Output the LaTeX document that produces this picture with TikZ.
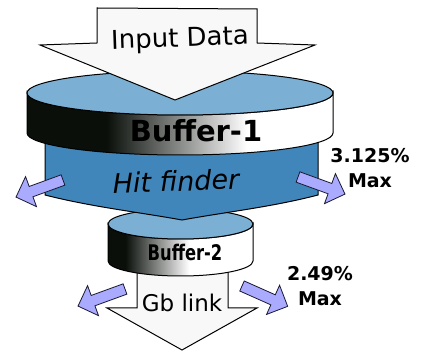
\documentclass[tikz,border=0pt]{standalone}
\usepackage{fontspec}
\setmainfont{DejaVu Sans}
\newfontfamily\serre[FakeStretch=0.76]{DejaVu Sans}
\usepackage{xcolor}
\definecolor{tamponDessus}{HTML}{7BAFD4}
\definecolor{tamponSombre}{HTML}{0A0F0A}
\definecolor{filtreBleu}{HTML}{4186BA}
\definecolor{fluxBlanc}{HTML}{F8F8F8}
\definecolor{fuiteLavande}{HTML}{AAAAFF}
\definecolor{fuiteContour}{HTML}{1A1A33}
\usepackage{tikz}

%% Flancs des deux tampons : noir a gauche, blanc a droite.
%% Le chemin couvre la bande 25bp--75bp de l'ombrage.
\pgfdeclarehorizontalshading{bandeUn}{100bp}{color(0bp)=(tamponSombre);
  color(38bp)=(tamponSombre); color(61bp)=(white); color(100bp)=(white)}
\pgfdeclarehorizontalshading{bandeDeux}{100bp}{color(0bp)=(tamponSombre);
  color(31bp)=(tamponSombre); color(53bp)=(white); color(100bp)=(white)}

\tikzset{
  %% ── Volumes ──────────────────────────────────────────────────────────
  dessusTampon/.style = {fill=tamponDessus, draw=black, line width=1pt},
  flanc/.style        = {draw=black, line width=1pt},
  filtre/.style       = {fill=filtreBleu, draw=black, line width=1pt},
  %%
  %% ── Fleches ──────────────────────────────────────────────────────────
  %% Les grosses fleches portent le flux, les petites les pertes.
  fleuve/.style       = {fill=fluxBlanc, draw=black, line width=1pt,
                         line join=miter},
  fuite/.style        = {fill=fuiteLavande, draw=fuiteContour,
                         line width=0.8pt, line join=miter},
  flecheFuite/.pic    = {\path[fuite] (0,-5.5) -- (34,-5.5) -- (34,-16)
                           -- (50,0) -- (34,16) -- (34,5.5) -- (0,5.5) -- cycle;},
  %%
  %% ── Texte ────────────────────────────────────────────────────────────
  titreTampon/.style  = {font=\bfseries\fontsize{29}{32}\selectfont},
  titreSerre/.style   = {font=\serre\bfseries\fontsize{21.5}{24}\selectfont},
  etiquette/.style    = {font=\fontsize{26}{30}\selectfont},
  taux/.style         = {font=\bfseries\fontsize{19}{24.5}\selectfont,
                         align=center, inner sep=0pt},
}

\begin{document}
\begin{tikzpicture}[x=1pt, y=1pt, yscale=-1]
\useasboundingbox (0,0) rectangle (421,352);

%% Le lien Gb, qui part sous le second tampon.
\path[fleuve] (137,250) -- (228,250) -- (228,308) -- (257,308) -- (182,350)
  -- (107,308) -- (137,308) -- cycle;

%% Second tampon.
\shade[shading=bandeDeux, flanc] (108,224) -- (108,261)
  arc[start angle=180, end angle=0, x radius=72.5, y radius=15] -- (253,224)
  arc[start angle=0, end angle=180, x radius=72.5, y radius=15] -- cycle;
\path[dessusTampon] (180.5,224) ellipse[x radius=72.5, y radius=15];

%% Le bloc hit finder, pointe vers le bas.
\path[filtre] (45,125) -- (318,125) -- (318,195)
  .. controls (272,207) and (226,212) .. (182,220)
  .. controls (138,212) and (92,207) .. (45,195) -- cycle;

%% Pertes de part et d'autre, vers le bas.
\foreach \x/\y/\a in {63/180/-160, 298/177/-20, 125/289/-160, 242/286/-24}
  \pic[rotate=\a] at (\x,\y) {flecheFuite};

%% Premier tampon.
\shade[shading=bandeUn, flanc] (27,93) -- (27,133)
  arc[start angle=180, end angle=0, x radius=153, y radius=22] -- (333,93)
  arc[start angle=0, end angle=180, x radius=153, y radius=22] -- cycle;
\path[dessusTampon] (180,93) ellipse[x radius=153, y radius=22];

%% Les donnees d'entree.
\path[fleuve] (97,8) -- (257,9) -- (257,43) -- (315,45) -- (175,100)
  -- (40,45) -- (97,43) -- cycle;

\node[etiquette, rotate=2] (entree) at (180,40) {Input Data};
\node[titreTampon] (tamponUn) at (196,131) {Buffer-1};
\node[etiquette, font=\itshape\fontsize{27}{30}\selectfont, rotate=2]
  (hit) at (176,181) {Hit finder};
\node[titreSerre] (tamponDeux) at (185,252) {Buffer-2};
\node[etiquette, font=\fontsize{23}{26}\selectfont] (gb) at (182,303) {Gb link};
\node[taux] (tauxUn) at (370,168) {3.125\%\\Max};
\node[taux] (tauxDeux) at (320,286) {2.49\%\\Max};

\end{tikzpicture}
\end{document}
